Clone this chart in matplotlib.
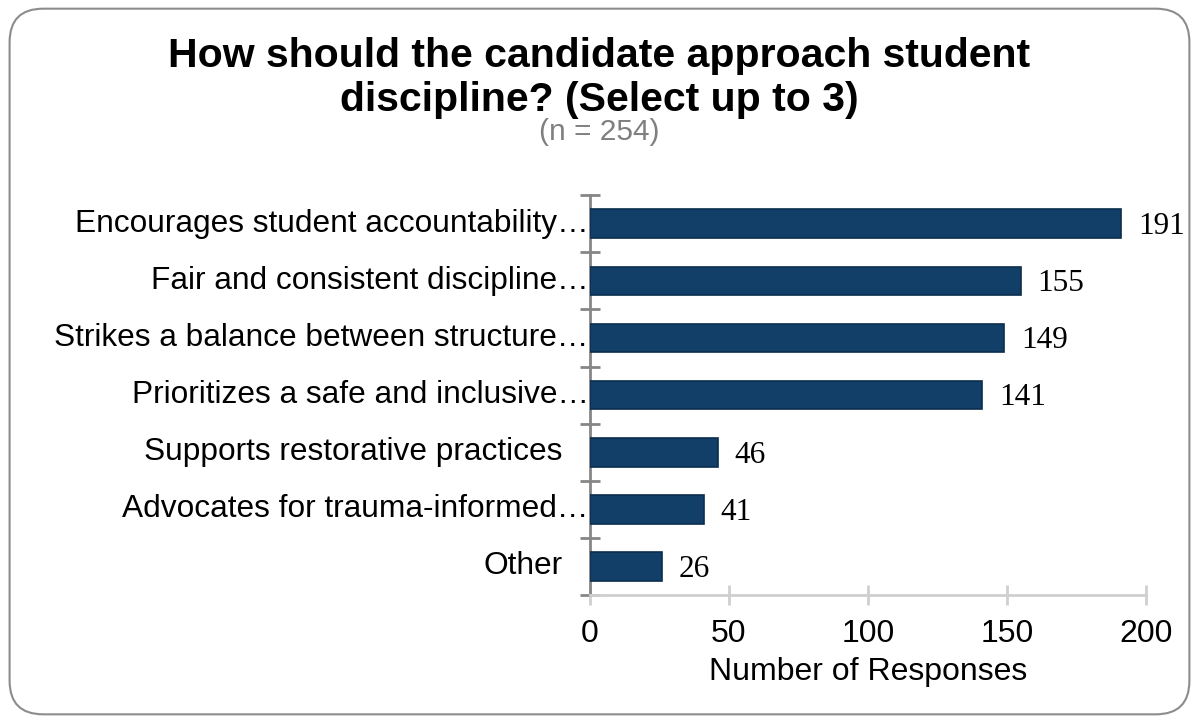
import numpy as np
import matplotlib
matplotlib.use('Agg')
import matplotlib.pyplot as plt
from matplotlib.patches import FancyBboxPatch

# survey answers, top to bottom
categories = [
    'Encourages student accountability\u2026',
    'Fair and consistent discipline\u2026',
    'Strikes a balance between structure\u2026',
    'Prioritizes a safe and inclusive\u2026',
    'Supports restorative practices',
    'Advocates for trauma-informed\u2026',
    'Other',
]
responses = [191, 155, 149, 141, 46, 41, 26]
xTicks = [0, 50, 100, 150, 200]

barColor = '#123f68'
barEdge = '#0b2d4d'

plt.rcParams['font.family'] = ['Liberation Sans', 'DejaVu Sans']

fig = plt.figure(figsize=(11.99, 7.23), dpi=100)

# rounded frame around the whole chart
frame = FancyBboxPatch(
    (0.008, 0.012), 0.984, 0.976,
    boxstyle='round,pad=0,rounding_size=0.028',
    transform=fig.transFigure,
    facecolor='none', edgecolor='#8c8c8c', linewidth=1.5,
    mutation_aspect=1199 / 723, zorder=-1,
)
fig.patches.append(frame)

ax = fig.add_axes([0.492, 0.177, 0.464, 0.553])
ax.set_facecolor('none')

pos = np.arange(len(categories))
ax.barh(pos, responses, height=0.5, color=barColor,
        edgecolor=barEdge, linewidth=1.2, zorder=3)

ax.set_xlim(0, 200)
ax.set_ylim(len(categories) - 0.5, -0.5)
ax.set_xticks(xTicks)
ax.set_xticklabels([str(t) for t in xTicks], fontsize=23)
ax.set_yticks(np.arange(len(categories) + 1) - 0.5)
ax.set_yticklabels([])

for side in ['top', 'right']:
    ax.spines[side].set_visible(False)
ax.spines['left'].set_color('#868686')
ax.spines['left'].set_linewidth(2)
ax.spines['bottom'].set_color('#cfcfcf')
ax.spines['bottom'].set_linewidth(2)

ax.tick_params(axis='y', direction='inout', length=14, width=2,
               color='#868686')
ax.tick_params(axis='x', direction='inout', length=14, width=2,
               color='#cfcfcf', pad=10)

# category labels, truncated ones run right up to the axis
for ii, (cat, val) in enumerate(zip(categories, responses)):
    off = -1 if cat.endswith('\u2026') else -20
    ax.annotate(cat, xy=(0, ii), xycoords=('axes fraction', 'data'),
                xytext=(off, 0), textcoords='offset points',
                ha='right', va='center', fontsize=22.8, color='#000000')
    ax.annotate(str(val), xy=(val, ii), xytext=(12, -2),
                textcoords='offset points', ha='left', va='center',
                fontsize=22.5, family='Liberation Serif', color='#000000')

ax.set_xlabel('Number of Responses', fontsize=23, labelpad=6)

fig.text(0.5, 0.922, 'How should the candidate approach student',
         ha='center', va='center', fontsize=29.5, fontweight='bold')
fig.text(0.5, 0.862, 'discipline? (Select up to 3)',
         ha='center', va='center', fontsize=29.5, fontweight='bold')
fig.text(0.5, 0.818, '(n = 254)', ha='center', va='center',
         fontsize=21.5, color='#7f7f7f')

fig.savefig('out.png', dpi=100)
